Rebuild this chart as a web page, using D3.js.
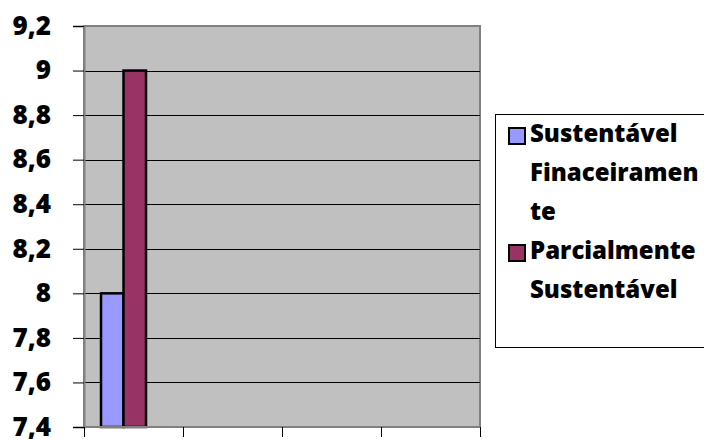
<!DOCTYPE html>
<html>
<head>
<meta charset="utf-8">
<script src="https://cdn.jsdelivr.net/npm/d3@7"></script>
<style>
  html, body { margin: 0; padding: 0; background: #fff; }
  svg { display: block; font-family: "Open Sans", sans-serif; font-weight: 800; }
</style>
</head>
<body>
<div id="chart"></div>
<script>
const categories = ["1", "2", "3", "4"];
const seriesNames = ["Sustentável Finaceiramente", "Parcialmente Sustentável"];
const legendLines = [["Sustentável", "Finaceiramen", "te"], ["Parcialmente", "Sustentável"]];
const sustentavelValues = [8, null, null, null];
const parcialValues = [9, null, null, null];
const yTicks = [7.4, 7.6, 7.8, 8, 8.2, 8.4, 8.6, 8.8, 9, 9.2];
const yTickLabels = ["7,4", "7,6", "7,8", "8", "8,2", "8,4", "8,6", "8,8", "9", "9,2"];
const colors = ["#9999FF", "#993366"];

const width = 704, height = 439;
const plot = { left: 84, right: 480, top: 26, bottom: 427 };

const svg = d3.select("#chart").append("svg")
  .attr("width", width)
  .attr("height", height);

const y = d3.scaleLinear().domain([7.4, 9.2]).range([plot.bottom, plot.top]);
const x0 = d3.scaleBand().domain(categories).range([plot.left, plot.right]);
const x1 = d3.scaleBand().domain(seriesNames).range([0, x0.bandwidth()])
  .paddingInner(0).paddingOuter(1.2).align(0.315);

// plot background
svg.append("rect")
  .attr("x", plot.left).attr("y", plot.top)
  .attr("width", plot.right - plot.left).attr("height", plot.bottom - plot.top)
  .attr("fill", "#C0C0C0")
  .attr("stroke", "#808080").attr("stroke-width", 2);

// gridlines
svg.append("g").selectAll("line")
  .data(yTicks.slice(1, -1))
  .join("line")
  .attr("x1", plot.left).attr("x2", plot.right)
  .attr("y1", d => Math.round(y(d)) + 0.5).attr("y2", d => Math.round(y(d)) + 0.5)
  .attr("stroke", "#000").attr("stroke-width", 1);

// bars
const seriesData = [sustentavelValues, parcialValues];
const bars = [];
categories.forEach((c, i) => {
  seriesNames.forEach((s, j) => {
    if (seriesData[j][i] != null) bars.push({ c, s, v: seriesData[j][i], color: colors[j] });
  });
});
svg.append("g").selectAll("rect")
  .data(bars)
  .join("rect")
  .attr("x", d => x0(d.c) + x1(d.s))
  .attr("y", d => y(d.v))
  .attr("width", x1.bandwidth())
  .attr("height", d => y(7.4) - y(d.v))
  .attr("fill", d => d.color)
  .attr("stroke", "#000").attr("stroke-width", 2.5);

// y axis
const yAxis = d3.axisLeft(y)
  .tickValues(yTicks)
  .tickFormat((d, i) => yTickLabels[i])
  .tickSize(11)
  .tickPadding(22);
const yg = svg.append("g").attr("transform", `translate(${plot.left},0)`).call(yAxis);
yg.select(".domain").attr("stroke", "#808080").attr("stroke-width", 2);
yg.selectAll(".tick line").attr("stroke", "#000");
yg.selectAll(".tick text")
  .attr("font-size", 26).attr("font-weight", 800).attr("font-family", "'Open Sans', sans-serif")
  .attr("fill", "#000");

// x axis (tick marks at category boundaries)
const xBounds = categories.map(c => x0(c)).concat([plot.right]);
const xg = svg.append("g");
xg.append("line")
  .attr("x1", plot.left).attr("x2", plot.right)
  .attr("y1", plot.bottom).attr("y2", plot.bottom)
  .attr("stroke", "#808080").attr("stroke-width", 2);
xg.selectAll("line.tick")
  .data(xBounds)
  .join("line").attr("class", "tick")
  .attr("x1", d => Math.round(d) + 0.5).attr("x2", d => Math.round(d) + 0.5)
  .attr("y1", plot.bottom).attr("y2", plot.bottom + 10)
  .attr("stroke", "#000");

// legend
const legend = svg.append("g");
legend.append("rect")
  .attr("x", 495.5).attr("y", 114.5)
  .attr("width", 230).attr("height", 233)
  .attr("fill", "#fff").attr("stroke", "#000").attr("stroke-width", 1);

let lineY = 0;
legendLines.forEach((lines, j) => {
  const top = 134 + lineY * 39;
  legend.append("rect")
    .attr("x", 509).attr("y", top - 6)
    .attr("width", 16).attr("height", 16)
    .attr("fill", colors[j]).attr("stroke", "#000").attr("stroke-width", 2);
  lines.forEach((t, k) => {
    legend.append("text")
      .attr("x", 530).attr("y", top + k * 39)
      .attr("dy", "0.35em")
      .attr("font-size", 24)
      .text(t);
  });
  lineY += lines.length;
});
</script>
</body>
</html>
